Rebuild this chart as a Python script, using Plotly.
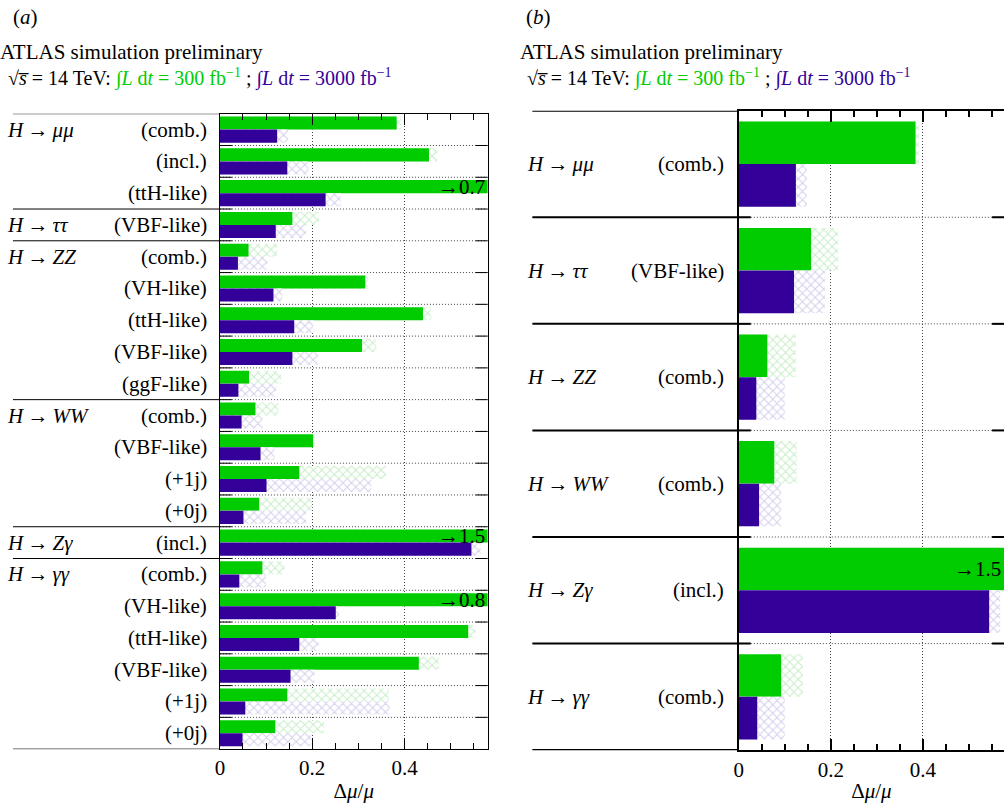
import plotly.graph_objects as go

W, H = 1004, 803

# ---- data ---------------------------------------------------------------
decays = ["<i>H</i>\u2009→\u2009<i>μμ</i>", "<i>H</i>\u2009→\u2009<i>ττ</i>",
          "<i>H</i>\u2009→\u2009<i>ZZ</i>", "<i>H</i>\u2009→\u2009<i>WW</i>",
          "<i>H</i>\u2009→\u2009<i>Zγ</i>", "<i>H</i>\u2009→\u2009<i>γγ</i>"]

# panel (a): all channels
a_group_sizes = [3, 1, 5, 4, 1, 6]
a_labels = ["(comb.)", "(incl.)", "(ttH-like)",
            "(VBF-like)",
            "(comb.)", "(VH-like)", "(ttH-like)", "(VBF-like)", "(ggF-like)",
            "(comb.)", "(VBF-like)", "(+1j)", "(+0j)",
            "(incl.)",
            "(comb.)", "(VH-like)", "(ttH-like)", "(VBF-like)", "(+1j)", "(+0j)"]
a_300_stat = [0.383, 0.453, 0.7, 0.157, 0.062, 0.315, 0.440, 0.308, 0.063, 0.077,
              0.202, 0.172, 0.085, 1.5, 0.092, 0.8, 0.538, 0.431, 0.146, 0.120]
a_300_total = [0.393, 0.471, 0.7, 0.215, 0.124, 0.321, 0.458, 0.339, 0.133, 0.127,
               0.205, 0.360, 0.200, 1.5, 0.140, 0.8, 0.554, 0.475, 0.366, 0.226]
a_3000_stat = [0.124, 0.146, 0.229, 0.121, 0.039, 0.116, 0.161, 0.157, 0.040, 0.047,
               0.088, 0.101, 0.051, 0.545, 0.042, 0.251, 0.172, 0.153, 0.055, 0.049]
a_3000_total = [0.148, 0.192, 0.262, 0.187, 0.103, 0.135, 0.202, 0.212, 0.122, 0.092,
                0.118, 0.328, 0.187, 0.565, 0.100, 0.258, 0.214, 0.205, 0.368, 0.198]

# panel (b): combined channels
b_labels = ["(comb.)", "(VBF-like)", "(comb.)", "(comb.)", "(incl.)", "(comb.)"]
b_300_stat = [0.384, 0.157, 0.062, 0.077, 1.5, 0.092]
b_300_total = [0.392, 0.216, 0.124, 0.126, 1.5, 0.139]
b_3000_stat = [0.124, 0.120, 0.038, 0.044, 0.544, 0.040]
b_3000_total = [0.148, 0.187, 0.100, 0.092, 0.568, 0.100]

x_ticks = [0, 0.2, 0.4]
x_ticktext = ["0", "0.2", "0.4"]

# ---- style --------------------------------------------------------------
GREEN = "#00cc00"
PURPLE = "#330099"
GREEN_HATCH = "#8fdc8f"
PURPLE_HATCH = "#a89fd8"
FONT = "Liberation Serif"
FS = 21


def px(x):
    return x / W


def py(y):
    return 1 - y / H


panels = [
    dict(xa="x", ya="y", xname="xaxis", yname="yaxis",
         left=216, right=485, top=114, bottom=751, xmax=0.58,
         lw=1, barw=0.41, sep_x0=8, lab_left=0, lab_right=205,
         groups=a_group_sizes, labels=a_labels,
         s300=a_300_stat, t300=a_300_total, s3000=a_3000_stat, t3000=a_3000_total,
         mirror=True, tag="(<i>a</i>)", tag_x=6, head_x=-7, head2_x=1),
    dict(xa="x2", ya="y2", xname="xaxis2", yname="yaxis2",
         left=737.5, right=1004, top=111, bottom=752, xmax=(1004 - 737.5) / 462.5,
         lw=2, barw=0.40, sep_x0=530, lab_left=523, lab_right=725,
         groups=[1] * 6, labels=b_labels,
         s300=b_300_stat, t300=b_300_total, s3000=b_3000_stat, t3000=b_3000_total,
         mirror=False, tag="(<i>b</i>)", tag_x=522, head_x=516, head2_x=523),
]

fig = go.Figure()
shapes = []
annotations = []

header2 = ("√<i>s̅</i> = 14 TeV: "
           f"<span style='color:{GREEN}'>∫<i>L</i> d<i>t</i> = 300 fb<sup>−1</sup></span> ; "
           f"<span style='color:{PURPLE}'>∫<i>L</i> d<i>t</i> = 3000 fb<sup>−1</sup></span>")

for p in panels:
    n = len(p["labels"])
    idx = list(range(n))
    bw = p["barw"]

    # hatched (total) bars behind solid (statistical) bars
    for vals, off, col, hatch in [
        (p["t300"], -bw, GREEN, GREEN_HATCH),
        (p["s300"], -bw, GREEN, None),
        (p["t3000"], 0.0, PURPLE, PURPLE_HATCH),
        (p["s3000"], 0.0, PURPLE, None),
    ]:
        if hatch:
            marker = dict(color="white", line=dict(width=0),
                          pattern=dict(shape="x", fgcolor=hatch, bgcolor="white",
                                       size=6, solidity=0.3))
        else:
            marker = dict(color=col, line=dict(width=0))
        fig.add_trace(go.Bar(orientation="h", y=idx, x=vals, offset=off, width=bw,
                             marker=marker, xaxis=p["xa"], yaxis=p["ya"],
                             showlegend=False, hoverinfo="skip"))

    # arrows for values beyond the axis range
    for i, v in enumerate(p["s300"]):
        if v > p["xmax"]:
            annotations.append(dict(text=f"→{v:g}", x=px(p["right"] - 1), xref="paper",
                                    xanchor="right", y=i - bw / 2, yref=p["ya"],
                                    yanchor="middle", showarrow=False,
                                    font=dict(family=FONT, size=FS, color="black")))

    # row boundaries: dotted lines inside the frame, short solid ticks at both ends
    for b in range(1, n):
        yb = b - 0.5
        shapes.append(dict(type="line", xref=p["xa"], yref=p["ya"], x0=0, x1=p["xmax"],
                           y0=yb, y1=yb, line=dict(color="#444", width=1, dash="1px,2px")))
        shapes.append(dict(type="line", xref="paper", yref=p["ya"],
                           x0=px(p["left"]), x1=px(p["left"] + 12), y0=yb, y1=yb,
                           line=dict(color="black", width=p["lw"])))
        shapes.append(dict(type="line", xref="paper", yref=p["ya"],
                           x0=px(p["right"] - 12), x1=px(p["right"]), y0=yb, y1=yb,
                           line=dict(color="black", width=p["lw"])))

    # group separators across the label column (including top and bottom)
    starts = [0]
    for g in p["groups"]:
        starts.append(starts[-1] + g)
    for s in starts:
        shapes.append(dict(type="line", xref="paper", yref=p["ya"],
                           x0=px(p["sep_x0"]), x1=px(p["left"]), y0=s - 0.5, y1=s - 0.5,
                           line=dict(color="black", width=p["lw"])))

    # labels
    for gi, s in enumerate(starts[:-1]):
        annotations.append(dict(text=decays[gi], x=px(p["lab_left"]), xref="paper",
                                xanchor="left", y=s, yref=p["ya"], yanchor="middle",
                                showarrow=False, font=dict(family=FONT, size=FS, color="black")))
    for i, lab in enumerate(p["labels"]):
        annotations.append(dict(text=lab, x=px(p["lab_right"]), xref="paper",
                                xanchor="right", y=i, yref=p["ya"], yanchor="middle",
                                showarrow=False, font=dict(family=FONT, size=FS, color="black")))

    # headers
    annotations.append(dict(text=p["tag"], x=px(p["tag_x"]), xref="paper", xanchor="left",
                            y=py(17), yref="paper", yanchor="middle", showarrow=False,
                            font=dict(family=FONT, size=FS, color="black")))
    annotations.append(dict(text="ATLAS simulation preliminary", x=px(p["head_x"]),
                            xref="paper", xanchor="left", y=py(52), yref="paper",
                            yanchor="middle", showarrow=False,
                            font=dict(family=FONT, size=FS, color="black")))
    annotations.append(dict(text=header2, x=px(p["head2_x"]), xref="paper", xanchor="left",
                            y=py(78), yref="paper", yanchor="middle", showarrow=False,
                            font=dict(family=FONT, size=FS - 1, color="black")))

    fig.update_layout({
        p["xname"]: dict(domain=[px(p["left"]), px(p["right"])], range=[0, p["xmax"]],
                         anchor=p["ya"], tickvals=x_ticks, ticktext=x_ticktext,
                         ticks="inside", ticklen=11, tickwidth=p["lw"], tickcolor="black",
                         showline=True, linecolor="black", linewidth=p["lw"], mirror="ticks",
                         showgrid=True, gridcolor="#444", griddash="1px,2px", gridwidth=1,
                         zeroline=False,
                         minor=dict(dtick=0.05, tick0=0, ticks="inside", ticklen=6,
                                    tickwidth=p["lw"], tickcolor="black", showgrid=False),
                         tickfont=dict(family=FONT, size=FS, color="black"),
                         title=dict(text="Δ<i>μ</i>/<i>μ</i>", standoff=6,
                                    font=dict(family=FONT, size=FS, color="black"))),
        p["yname"]: dict(domain=[py(p["bottom"]), py(p["top"])], range=[n - 0.5, -0.5],
                         anchor=p["xa"], showticklabels=False, ticks="", showgrid=False,
                         zeroline=False, showline=True, linecolor="black",
                         linewidth=p["lw"], mirror=p["mirror"]),
    })

fig.update_layout(width=W, height=H, margin=dict(l=0, r=0, t=0, b=0),
                  paper_bgcolor="white", plot_bgcolor="white", barmode="overlay",
                  shapes=shapes, annotations=annotations, showlegend=False,
                  font=dict(family=FONT, size=FS, color="black"))

fig.write_html("out.html")
